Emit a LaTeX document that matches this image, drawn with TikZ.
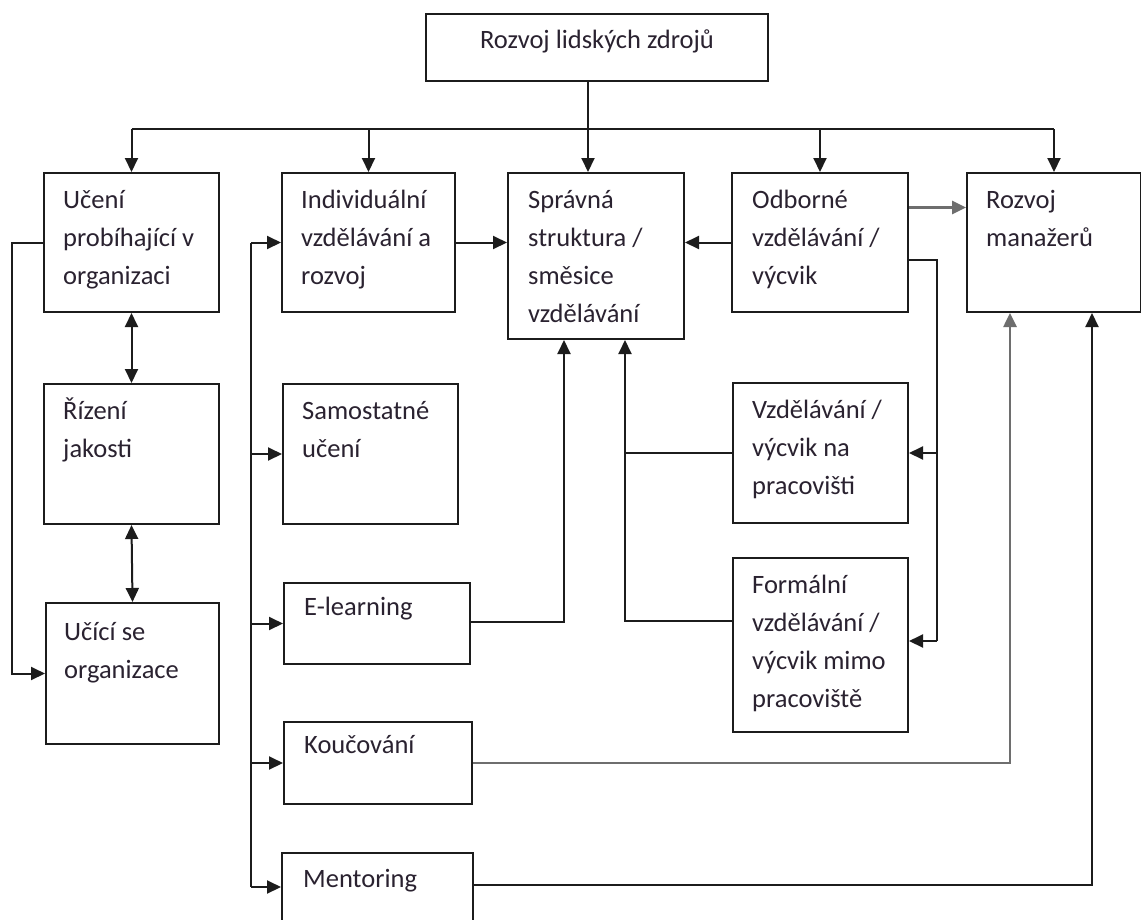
\documentclass[tikz,border=0pt]{standalone}
\usepackage{fontspec}
\setmainfont{Carlito}
\usetikzlibrary{arrows.meta,calc}
\definecolor{ink}{HTML}{1C1C1C}
\definecolor{txtc}{HTML}{2A2230}
\definecolor{greyline}{HTML}{6E6E6E}
\begin{document}
\begin{tikzpicture}[x=1pt,y=-1pt,
  box/.style={draw=ink,line width=2pt,rectangle,anchor=north west,inner sep=0pt},
  txt/.style={anchor=base west,inner sep=0pt,text width=170pt,align=flush left,text=txtc,
              font=\fontsize{26.5}{38}\selectfont},
  tip/.tip={Triangle[length=14pt,width=13pt]},
  link/.style={draw=ink,line width=2pt},
  arr/.style={link,-tip},
  dbl/.style={link,tip-tip},
  greyarr/.style={draw=greyline,line width=2.6pt,-tip}]
\clip (0,0) rectangle (1141,919);
\fill[white] (0,0) rectangle (1141,919);

% boxes
\node[box,minimum width=342pt,minimum height=67pt]  (rlz)    at (425,13)  {};
\node[box,minimum width=175pt,minimum height=139pt] (uceni)  at (43,172)  {};
\node[box,minimum width=173pt,minimum height=139pt] (indiv)  at (281,172) {};
\node[box,minimum width=176pt,minimum height=166pt] (spr)    at (507,172) {};
\node[box,minimum width=176pt,minimum height=139pt] (odb)    at (731,172) {};
\node[box,minimum width=174pt,minimum height=139pt] (rozm)   at (966,172) {};
\node[box,minimum width=175pt,minimum height=140pt] (rizeni) at (43,383)  {};
\node[box,minimum width=175pt,minimum height=140pt] (samost) at (282,383) {};
\node[box,minimum width=173pt,minimum height=141pt] (ucici)  at (45,602)  {};
\node[box,minimum width=175pt,minimum height=140pt] (vzd)    at (732,382) {};
\node[box,minimum width=175pt,minimum height=174pt] (form)   at (732,557) {};
\node[box,minimum width=186pt,minimum height=81pt]  (elearn) at (283,582) {};
\node[box,minimum width=188pt,minimum height=82pt]  (kouc)   at (283,721) {};
\node[box,minimum width=191pt,minimum height=68pt]  (ment)   at (281,852) {};

% labels
\node[anchor=base,inner sep=0pt,text=txtc,font=\fontsize{26.5}{38}\selectfont] (trlz)
  at ([yshift=-35pt]rlz.north) {Rozvoj lidských zdrojů};
\node[txt] (tuceni)  at ([shift={(20pt,-36pt)}]uceni.north west)  {Učení\\probíhající v\\organizaci};
\node[txt] (tindiv)  at ([shift={(20pt,-36pt)}]indiv.north west)  {Individuální\\vzdělávání a\\rozvoj};
\node[txt] (tspr)    at ([shift={(21pt,-36pt)}]spr.north west)    {Správná\\struktura /\\směsice\\vzdělávání};
\node[txt] (todb)    at ([shift={(21pt,-36pt)}]odb.north west)    {Odborné\\vzdělávání /\\výcvik};
\node[txt] (trozm)   at ([shift={(20pt,-36pt)}]rozm.north west)   {Rozvoj\\manažerů};
\node[txt] (trizeni) at ([shift={(20pt,-36pt)}]rizeni.north west) {Řízení\\jakosti};
\node[txt] (tsamost) at ([shift={(20pt,-36pt)}]samost.north west) {Samostatné\\učení};
\node[txt] (tucici)  at ([shift={(19pt,-38pt)}]ucici.north west)  {Učící se\\organizace};
\node[txt] (tvzd)    at ([shift={(20pt,-36pt)}]vzd.north west)    {Vzdělávání /\\výcvik na\\pracovišti};
\node[txt] (tform)   at ([shift={(20pt,-36pt)}]form.north west)   {Formální\\vzdělávání /\\výcvik mimo\\pracoviště};
\node[txt] (telearn) at ([shift={(21pt,-33pt)}]elearn.north west) {E-learning};
\node[txt] (tkouc)   at ([shift={(21pt,-32pt)}]kouc.north west)   {Koučování};
\node[txt] (tment)   at ([shift={(22pt,-35pt)}]ment.north west)   {Mentoring};

% routing points
\coordinate (bus)  at (588,129);
\coordinate (feed) at (251,0);
\coordinate (loop) at (12,0);
\coordinate (rb)   at (937,0);
\coordinate (mid)  at (625,0);
\coordinate (el)   at (564,0);
\coordinate (kx)   at (1010,0);
\coordinate (mx)   at (1092,0);
\coordinate (elout)   at ([yshift=2pt]elearn.east);
\coordinate (formout) at ([yshift=24pt]form.west);
\coordinate (formin)  at ([yshift=4pt]form.east);
\coordinate (odbmgr)  at ([yshift=35pt]odb.east);
\coordinate (odbout)  at ([yshift=-17pt]odb.east);
\coordinate (mentout) at ([yshift=2pt]ment.east);

% distribution bus from the top box
\draw[link] (rlz.south -| bus) -- (bus);
\draw[link] (uceni.north |- bus) -- (rozm.north |- bus);
\draw[arr] (uceni.north |- bus) -- (uceni.north);
\draw[arr] (indiv.north |- bus) -- (indiv.north);
\draw[arr] (bus) -- (spr.north -| bus);
\draw[arr] (odb.north |- bus) -- (odb.north);
\draw[arr] (rozm.north |- bus) -- (rozm.north);

% left column
\draw[dbl] (uceni.south) -- (rizeni.north);
\draw[dbl] (rizeni.south) -- (ucici.north);
\draw[arr] (uceni.west) -- (loop |- uceni.west) -- (loop |- ucici.west) -- (ucici.west);

% feed line to the second column
\draw[link] (feed |- indiv.west) -- (feed |- ment.west);
\draw[arr] (feed |- indiv.west) -- (indiv.west);
\draw[arr] (feed |- samost.west) -- (samost.west);
\draw[arr] (feed |- elearn.west) -- (elearn.west);
\draw[arr] (feed |- kouc.west) -- (kouc.west);
\draw[arr] (feed |- ment.west) -- (ment.west);

% into the central box
\draw[arr] (indiv.east) -- (spr.west |- indiv.east);
\draw[arr] (odb.west) -- (spr.east |- odb.west);
\draw[arr] (elout) -- (el |- elout) -- (el |- spr.south);
\draw[link] (vzd.west) -- (mid |- vzd.west);
\draw[arr] (formout) -- (mid |- formout) -- (mid |- spr.south);

% professional training branch
\draw[greyarr] (odbmgr) -- (odbmgr -| rozm.west);
\draw[link] (odbout) -- (rb |- odbout) -- (rb |- formin);
\draw[arr] (rb |- vzd.east) -- (vzd.east);
\draw[arr] (rb |- formin) -- (formin);

% coaching and mentoring into manager development
\draw[greyarr] (kouc.east) -- (kx |- kouc.east) -- (kx |- rozm.south);
\draw[arr] (mentout) -- (mx |- mentout) -- (mx |- rozm.south);
\end{tikzpicture}
\end{document}
